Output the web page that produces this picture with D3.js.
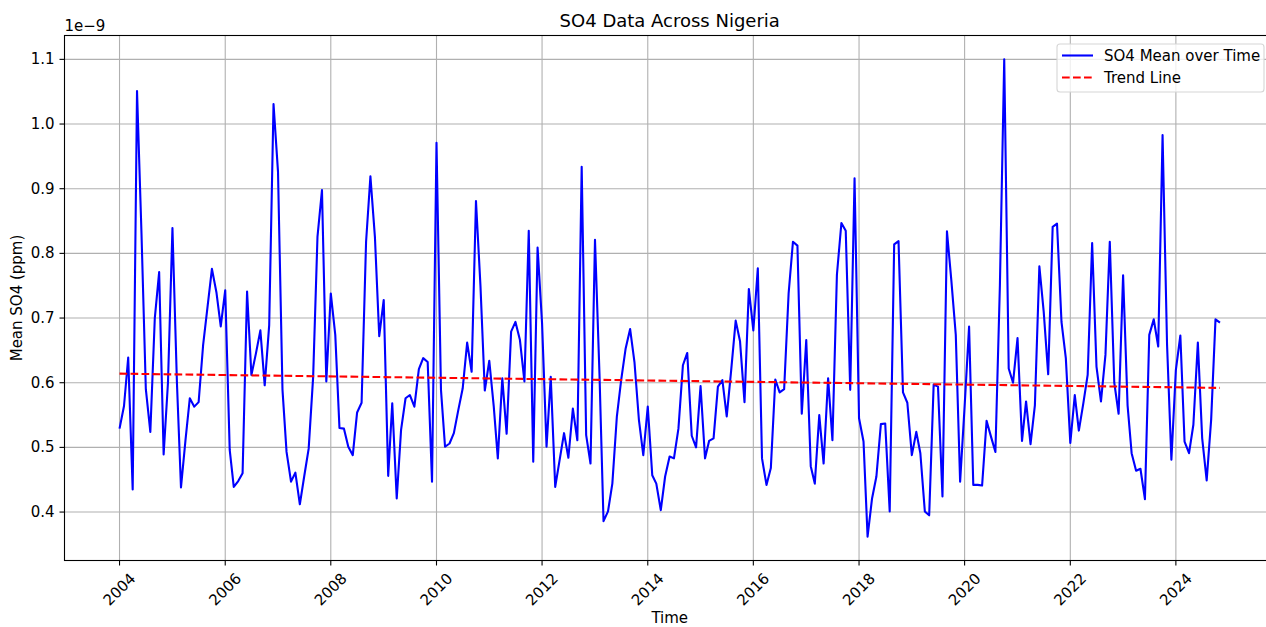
<!DOCTYPE html>
<html>
<head>
<meta charset="utf-8">
<script src="https://cdn.jsdelivr.net/npm/d3@7"></script>
<style>
  body { margin: 0; background: #fff; }
  text { font-family: "DejaVu Sans", sans-serif; fill: #000; }
</style>
</head>
<body>
<div id="chart"></div>
<script>
// monthly SO4 mean, units of 1e-9 ppm, first value is Jan 2004
const startMonth = '2004-01';
const so4Mean = [
  0.529, 0.564, 0.639, 0.435, 1.051, 0.830, 0.590, 0.524, 0.700, 0.771, 0.489, 0.600, // 2004
  0.839, 0.600, 0.438, 0.511, 0.576, 0.563, 0.570, 0.658, 0.718, 0.776, 0.740, 0.687, // 2005
  0.743, 0.496, 0.439, 0.448, 0.460, 0.741, 0.612, 0.645, 0.681, 0.596, 0.689, 1.031, // 2006
  0.926, 0.589, 0.493, 0.447, 0.461, 0.412, 0.455, 0.498, 0.609, 0.826, 0.898, 0.602, // 2007
  0.738, 0.674, 0.530, 0.529, 0.501, 0.488, 0.554, 0.569, 0.818, 0.919, 0.826, 0.672, // 2008
  0.728, 0.456, 0.568, 0.421, 0.527, 0.576, 0.581, 0.563, 0.621, 0.638, 0.632, 0.447, // 2009
  0.971, 0.589, 0.501, 0.506, 0.522, 0.558, 0.591, 0.662, 0.617, 0.881, 0.750, 0.588, // 2010
  0.634, 0.563, 0.483, 0.607, 0.521, 0.679, 0.694, 0.666, 0.602, 0.835, 0.478, 0.809, // 2011
  0.692, 0.501, 0.609, 0.439, 0.480, 0.522, 0.484, 0.560, 0.511, 0.934, 0.519, 0.475, // 2012
  0.821, 0.614, 0.386, 0.401, 0.444, 0.547, 0.604, 0.653, 0.683, 0.632, 0.542, 0.488, // 2013
  0.563, 0.457, 0.444, 0.403, 0.455, 0.486, 0.483, 0.529, 0.627, 0.646, 0.518, 0.500, // 2014
  0.595, 0.483, 0.510, 0.514, 0.594, 0.604, 0.548, 0.620, 0.696, 0.664, 0.570, 0.745, // 2015
  0.681, 0.777, 0.483, 0.442, 0.468, 0.605, 0.585, 0.590, 0.738, 0.818, 0.812, 0.552, // 2016
  0.666, 0.471, 0.444, 0.550, 0.475, 0.607, 0.511, 0.767, 0.847, 0.835, 0.589, 0.916, // 2017
  0.545, 0.509, 0.362, 0.421, 0.455, 0.536, 0.537, 0.401, 0.814, 0.819, 0.585, 0.569, // 2018
  0.488, 0.524, 0.491, 0.401, 0.395, 0.597, 0.594, 0.424, 0.834, 0.759, 0.674, 0.447, // 2019
  0.563, 0.687, 0.442, 0.442, 0.441, 0.541, 0.517, 0.493, 0.750, 1.100, 0.622, 0.600, // 2020
  0.669, 0.510, 0.571, 0.505, 0.565, 0.780, 0.710, 0.613, 0.841, 0.846, 0.694, 0.638, // 2021
  0.507, 0.581, 0.526, 0.568, 0.612, 0.816, 0.625, 0.571, 0.643, 0.818, 0.600, 0.552, // 2022
  0.766, 0.565, 0.491, 0.464, 0.467, 0.420, 0.674, 0.698, 0.656, 0.983, 0.659, 0.481, // 2023
  0.620, 0.673, 0.509, 0.491, 0.535, 0.662, 0.514, 0.449, 0.543, 0.698, 0.693          // 2024
];
const trendEnds = [0.614, 0.592];
const yTicks = [0.4, 0.5, 0.6, 0.7, 0.8, 0.9, 1.0, 1.1];
const xTickYears = [2004, 2006, 2008, 2010, 2012, 2014, 2016, 2018, 2020, 2022, 2024];
const seriesNames = ['SO4 Mean over Time', 'Trend Line'];

const width = 1266, height = 627;
const margin = {left: 64.5, top: 35.5, right: 1275, bottom: 560.5};
const fontSize = 15;
const tickLen = 5;

const parseMonth = d3.timeParse('%Y-%m');
const start = parseMonth(startMonth);
const data = so4Mean.map((v, i) => ({date: d3.timeMonth.offset(start, i), value: v}));

// matplotlib style 5% padding on both axes
function padded(ext) {
  const span = ext[1] - ext[0];
  return [ext[0] - span * 0.05, ext[1] + span * 0.05];
}
const xExt = d3.extent(data, d => +d.date);
const x = d3.scaleTime()
  .domain(padded(xExt).map(t => new Date(t)))
  .range([margin.left, margin.right]);
const y = d3.scaleLinear()
  .domain(padded(d3.extent(data, d => d.value)))
  .range([margin.bottom, margin.top]);

const svg = d3.select('#chart').append('svg')
  .attr('width', width)
  .attr('height', height);

svg.append('rect').attr('width', width).attr('height', height).attr('fill', '#fff');

svg.append('defs').append('clipPath').attr('id', 'plotclip')
  .append('rect')
  .attr('x', margin.left).attr('y', margin.top)
  .attr('width', margin.right - margin.left)
  .attr('height', margin.bottom - margin.top);

// grid
const grid = svg.append('g').attr('stroke', '#b0b0b0').attr('stroke-width', 1.1);
grid.selectAll('.vgrid')
  .data(xTickYears)
  .enter().append('line')
  .attr('x1', d => x(new Date(d, 0, 1)))
  .attr('x2', d => x(new Date(d, 0, 1)))
  .attr('y1', margin.top)
  .attr('y2', margin.bottom);
grid.selectAll('.hgrid')
  .data(yTicks)
  .enter().append('line')
  .attr('x1', margin.left)
  .attr('x2', margin.right)
  .attr('y1', d => y(d))
  .attr('y2', d => y(d));

const plot = svg.append('g').attr('clip-path', 'url(#plotclip)');

const line = d3.line()
  .x(d => x(d.date))
  .y(d => y(d.value));

plot.append('path')
  .datum(data)
  .attr('fill', 'none')
  .attr('stroke', '#0000ff')
  .attr('stroke-width', 2.1)
  .attr('stroke-linejoin', 'round')
  .attr('d', line);

const trend = [
  {date: data[0].date, value: trendEnds[0]},
  {date: data[data.length - 1].date, value: trendEnds[1]}
];
plot.append('path')
  .datum(trend)
  .attr('fill', 'none')
  .attr('stroke', '#ff0000')
  .attr('stroke-width', 2.1)
  .attr('stroke-dasharray', '7.7,3.3')
  .attr('d', line);

// spines
svg.append('rect')
  .attr('x', margin.left).attr('y', margin.top)
  .attr('width', margin.right - margin.left)
  .attr('height', margin.bottom - margin.top)
  .attr('fill', 'none')
  .attr('stroke', '#000')
  .attr('stroke-width', 1.1);

// x ticks
const xt = svg.append('g');
xt.selectAll('line')
  .data(xTickYears)
  .enter().append('line')
  .attr('x1', d => x(new Date(d, 0, 1)))
  .attr('x2', d => x(new Date(d, 0, 1)))
  .attr('y1', margin.bottom)
  .attr('y2', margin.bottom + tickLen)
  .attr('stroke', '#000')
  .attr('stroke-width', 1.1);
xt.selectAll('text')
  .data(xTickYears)
  .enter().append('text')
  .attr('transform', d => `translate(${x(new Date(d, 0, 1))},${margin.bottom + 29}) rotate(-45)`)
  .attr('text-anchor', 'middle')
  .attr('dominant-baseline', 'central')
  .attr('font-size', fontSize)
  .text(d => d);

// y ticks
const yt = svg.append('g');
yt.selectAll('line')
  .data(yTicks)
  .enter().append('line')
  .attr('x1', margin.left - tickLen)
  .attr('x2', margin.left)
  .attr('y1', d => y(d))
  .attr('y2', d => y(d))
  .attr('stroke', '#000')
  .attr('stroke-width', 1.1);
yt.selectAll('text')
  .data(yTicks)
  .enter().append('text')
  .attr('x', margin.left - 10)
  .attr('y', d => y(d))
  .attr('text-anchor', 'end')
  .attr('dominant-baseline', 'central')
  .attr('font-size', fontSize)
  .text(d => d3.format('.1f')(d));

svg.append('text')
  .attr('x', margin.left)
  .attr('y', 31)
  .attr('font-size', fontSize)
  .text('1e\u22129');

svg.append('text')
  .attr('x', (margin.left + margin.right) / 2)
  .attr('y', 27)
  .attr('text-anchor', 'middle')
  .attr('font-size', 18)
  .text('SO4 Data Across Nigeria');

svg.append('text')
  .attr('x', (margin.left + margin.right) / 2)
  .attr('y', 623)
  .attr('text-anchor', 'middle')
  .attr('font-size', fontSize)
  .text('Time');

svg.append('text')
  .attr('transform', `translate(22,${(margin.top + margin.bottom) / 2}) rotate(-90)`)
  .attr('text-anchor', 'middle')
  .attr('font-size', fontSize)
  .text('Mean SO4 (ppm)');

// legend
const legend = svg.append('g');
legend.append('rect')
  .attr('x', 1057).attr('y', 44)
  .attr('width', 207).attr('height', 48)
  .attr('rx', 3)
  .attr('fill', '#fff').attr('fill-opacity', 0.8)
  .attr('stroke', '#d6d6d6').attr('stroke-width', 1.1);
const legendRows = legend.selectAll('.row')
  .data(seriesNames)
  .enter().append('g')
  .attr('transform', (d, i) => `translate(1062,${55.5 + i * 22})`);
legendRows.append('line')
  .attr('x1', 0).attr('x2', 31)
  .attr('stroke', (d, i) => i === 0 ? '#0000ff' : '#ff0000')
  .attr('stroke-width', 2.1)
  .attr('stroke-dasharray', (d, i) => i === 0 ? null : '7.7,3.3');
legendRows.append('text')
  .attr('x', 42)
  .attr('dominant-baseline', 'central')
  .attr('font-size', fontSize)
  .text(d => d);
</script>
</body>
</html>
